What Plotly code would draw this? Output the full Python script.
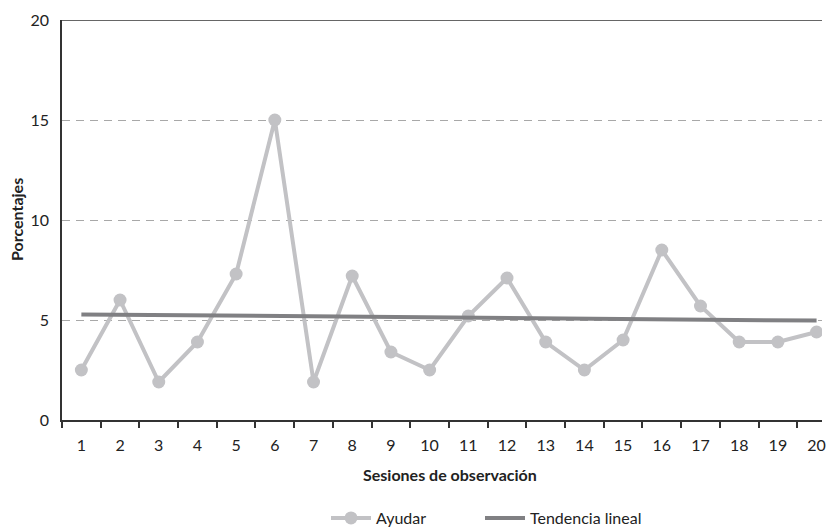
import plotly.graph_objects as go

sesiones = list(range(1, 21))
ayudar = [2.5, 6.0, 1.9, 3.9, 7.3, 15.0, 1.9, 7.2, 3.4, 2.5,
          5.2, 7.1, 3.9, 2.5, 4.0, 8.5, 5.7, 3.9, 3.9, 4.4]
trend_x = [1, 20]
trend_y = [5.28, 4.97]
y_ticks = [0, 5, 10, 15, 20]

FONT = "Lato"
AXIS = "#333333"

fig = go.Figure()
fig.add_trace(go.Scatter(
    x=sesiones, y=ayudar, mode="lines+markers", name="Ayudar",
    line=dict(color="#c2c2c5", width=4),
    marker=dict(color="#c2c2c5", size=13),
    legend="legend",
))
fig.add_trace(go.Scatter(
    x=trend_x, y=trend_y, mode="lines", name="Tendencia lineal",
    line=dict(color="#808083", width=4),
    legend="legend2",
))

leg_common = dict(orientation="h", xanchor="left", y=-0.245, yanchor="middle",
                  font=dict(family=FONT, size=16, color="#222222"), itemwidth=40)

fig.update_layout(
    width=828, height=529,
    margin=dict(l=62, r=6, t=20, b=109, autoexpand=False),
    paper_bgcolor="white", plot_bgcolor="white",
    font=dict(family=FONT, size=16, color="#222222"),
    showlegend=True,
    legend=dict(x=(326 - 62) / 760, **leg_common),
    legend2=dict(x=(480 - 62) / 760, **leg_common),
    xaxis=dict(
        range=[0.5, 20.14], tickmode="array", tickvals=sesiones,
        ticktext=[str(s) for s in sesiones], ticks="",
        showline=True, linecolor=AXIS, linewidth=1.5,
        showgrid=False, zeroline=False, automargin=False,
        tickfont=dict(family=FONT, size=16, color="#222222"),
        ticklabelstandoff=10,
        minor=dict(tick0=0.5, dtick=1, ticks="outside", ticklen=6,
                   tickcolor=AXIS, tickwidth=1.5, showgrid=False),
    ),
    yaxis=dict(
        range=[0, 20], tickmode="array", tickvals=y_ticks,
        ticks="", showline=True, linecolor=AXIS, linewidth=1.5,
        showgrid=True, gridcolor="#a8a8a8", gridwidth=1.2, griddash="8px,6px",
        zeroline=False, automargin=False,
        tickfont=dict(family=FONT, size=16, color="#222222"),
        ticklabelstandoff=8,
    ),
    annotations=[
        dict(text="<b>Sesiones de observación</b>", xref="paper", yref="paper",
             x=(450 - 62) / 760, y=-(474 - 420) / 400, xanchor="center", yanchor="middle",
             showarrow=False, font=dict(family=FONT, size=16, color="#222222")),
        dict(text="<b>Porcentajes</b>", xref="paper", yref="paper",
             x=-(62 - 16) / 760, y=0.5, xanchor="center", yanchor="middle",
             textangle=-90, showarrow=False,
             font=dict(family=FONT, size=16, color="#222222")),
    ],
    shapes=[
        dict(type="line", xref="paper", yref="y", x0=0, x1=1, y0=20, y1=20,
             line=dict(color=AXIS, width=1.5)),
    ],
)

fig.write_html("out.html", config={"displayModeBar": False},
               post_script="document.body.style.margin='0';document.body.style.overflow='hidden';")
